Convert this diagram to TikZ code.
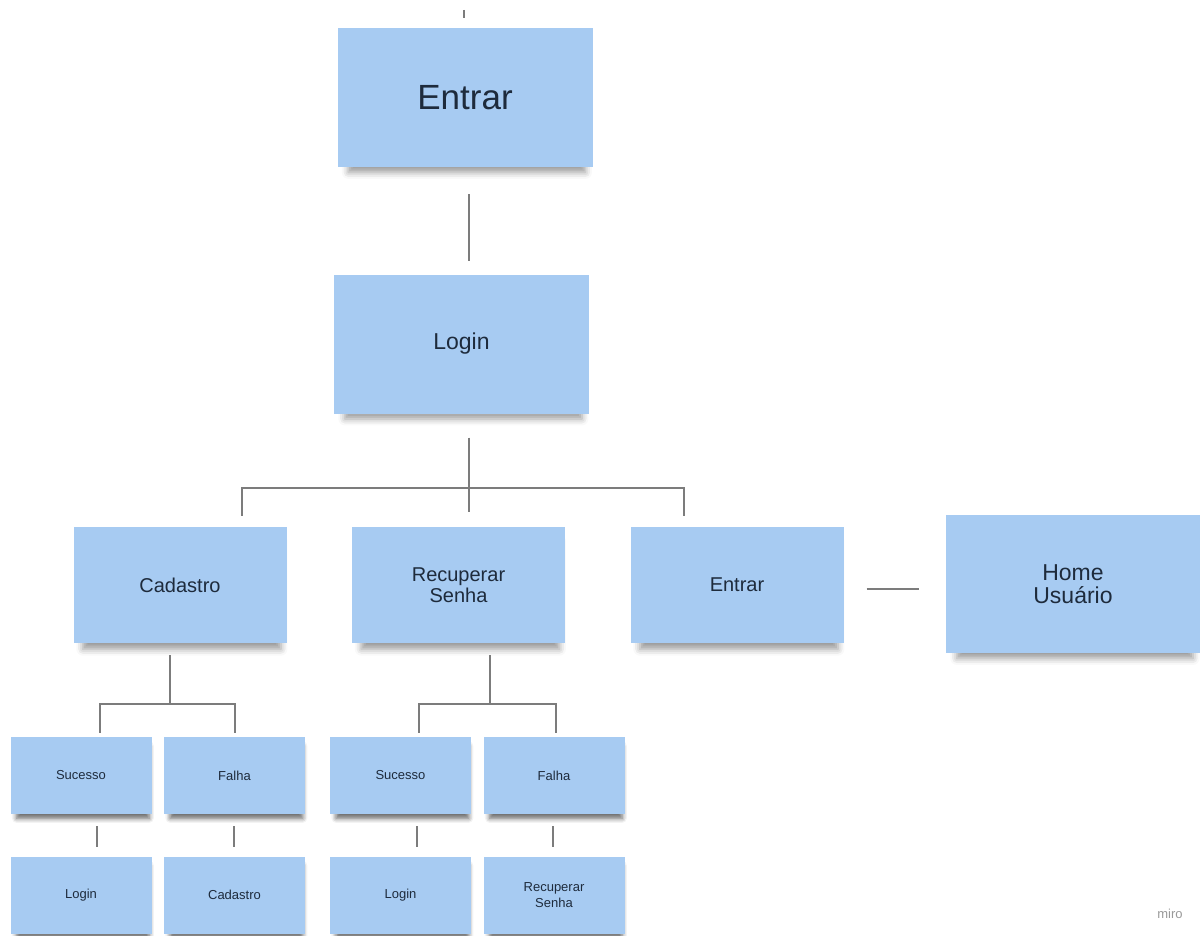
\documentclass[tikz,border=0pt]{standalone}
\usepackage{fontspec}
\setmainfont{Liberation Sans}
\usetikzlibrary{positioning,shadows.blur}
\definecolor{notefill}{HTML}{A7CBF2}
\definecolor{notetext}{HTML}{1E2B3C}
\definecolor{linkgray}{HTML}{7C7C7C}
\tikzset{note/.style={rectangle, fill=notefill, text=notetext, align=center, inner sep=0pt,
  blur shadow={shadow xshift=2pt, shadow yshift=-11pt, shadow scale=0.93, shadow opacity=40, shadow blur radius=7pt}}}
\tikzset{bignote/.style={note, minimum width=255pt, minimum height=139pt}}
\tikzset{midnote/.style={note, minimum width=213pt, minimum height=116pt, font=\fontsize{20}{21}\selectfont}}
\tikzset{smallnote/.style={note, minimum width=141pt, minimum height=77pt, font=\fontsize{13}{15.5}\selectfont,
  blur shadow={shadow xshift=2pt, shadow yshift=-7pt, shadow scale=0.94, shadow opacity=35, shadow blur radius=5pt}}}
\tikzset{link/.style={draw=linkgray, line width=2pt}}

\begin{document}
\begin{tikzpicture}[x=1pt, y=-1pt]
  \useasboundingbox (0,0) rectangle (1201,936);

  \node[bignote, font=\fontsize{35}{36}\selectfont] (entrar) at (465,97.5) {Entrar};
  \node[bignote, font=\fontsize{23}{24}\selectfont] (login) at (461.5,344) {Login};
  \node[midnote] (cad) at (180,585) {Cadastro};
  \node[midnote, node distance=278.5pt, right of=cad] (rec) {Recuperar\\Senha};
  \node[midnote, node distance=278.5pt, right of=rec] (ent) {Entrar};
  \node[bignote, minimum width=254pt, minimum height=138pt, font=\fontsize{23}{23.5}\selectfont] (home) at (1073,584) {Home\\Usuário};

  \node[smallnote] (cadok) at (81,775.5) {Sucesso};
  \node[smallnote, node distance=153.5pt, right of=cadok] (cadfail) {Falha};
  \node[smallnote] (recok) at (400.5,775.5) {Sucesso};
  \node[smallnote, node distance=153.5pt, right of=recok] (recfail) {Falha};
  \node[smallnote, node distance=119.5pt, below of=cadok] (cadlogin) {Login};
  \node[smallnote, node distance=119.5pt, below of=cadfail] (cadagain) {Cadastro};
  \node[smallnote, node distance=119.5pt, below of=recok] (reclogin) {Login};
  \node[smallnote, node distance=119.5pt, below of=recfail] (recagain) {Recuperar\\Senha};

  \node[text=black!40, font=\fontsize{13}{13}\selectfont] (brand) at (1170,914) {miro};

  \coordinate (topend) at (464,10);
  \coordinate (loginfork) at (469,488);
  \coordinate (cadfork) at (170,704);
  \coordinate (recfork) at (490,704);

  \draw[link, line width=1.4pt, shorten >=10pt] (topend) -- (topend |- entrar.north);
  \draw[link, shorten <=27pt, shorten >=13pt] (entrar.south -| loginfork) -- (login.north -| loginfork);

  \draw[link, line width=2.6pt, shorten <=24pt] (login.south -| loginfork) -- (loginfork);
  \draw[link, shorten >=11pt] (loginfork) -| ([xshift=62pt]cad.north);
  \draw[link, shorten >=15pt] (loginfork) -- ([xshift=10.5pt]rec.north);
  \draw[link, shorten >=11pt] (loginfork) -| ([xshift=-53.5pt]ent.north);

  \draw[link, shorten <=23pt, shorten >=27pt] ([yshift=-4pt]ent.east) -- ([yshift=-4pt]ent.east -| home.west);

  \draw[link, shorten <=12pt] (cad.south -| cadfork) -- (cadfork);
  \draw[link, shorten >=4pt] (cadfork) -| ([xshift=19pt]cadok.north);
  \draw[link, shorten >=4pt] (cadfork) -| ([xshift=0.5pt]cadfail.north);

  \draw[link, shorten <=12pt] (rec.south -| recfork) -- (recfork);
  \draw[link, shorten >=4pt] (recfork) -| ([xshift=18.5pt]recok.north);
  \draw[link, shorten >=4pt] (recfork) -| ([xshift=2pt]recfail.north);

  \draw[link, shorten <=12pt, shorten >=9pt] ([xshift=16pt]cadok.south) -- ([xshift=16pt]cadlogin.north);
  \draw[link, shorten <=12pt, shorten >=9pt] ([xshift=-0.5pt]cadfail.south) -- ([xshift=-0.5pt]cadagain.north);
  \draw[link, shorten <=12pt, shorten >=9pt] ([xshift=16.5pt]recok.south) -- ([xshift=16.5pt]reclogin.north);
  \draw[link, shorten <=12pt, shorten >=9pt] ([xshift=-1pt]recfail.south) -- ([xshift=-1pt]recagain.north);
\end{tikzpicture}
\end{document}
